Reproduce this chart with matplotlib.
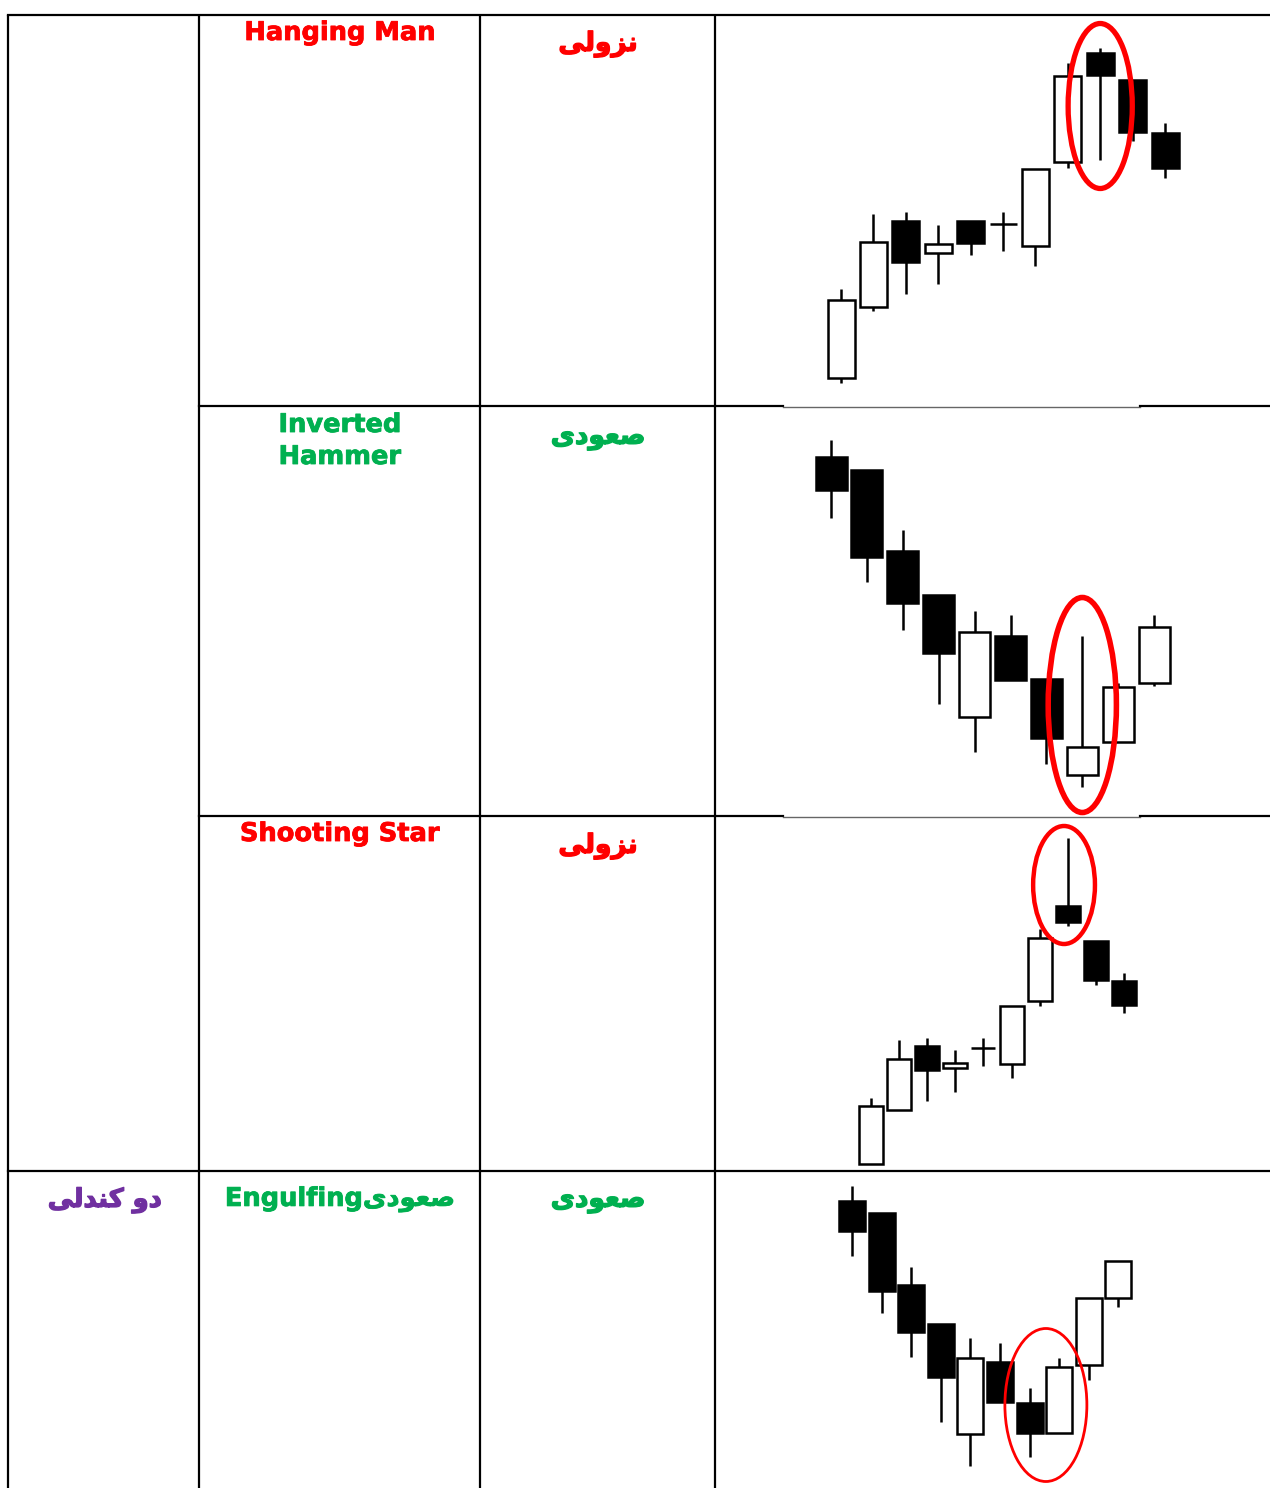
import numpy as np
import matplotlib.pyplot as plt
import matplotlib.patheffects as pe
from matplotlib.patches import Ellipse

W, H = 1270, 1488

# Persian labels, written in visual order with Arabic presentation forms
# (matplotlib does no shaping / right-to-left layout)
NOZULI = '\uFEF0\uFEDF\uFEED\uFEB0\uFEE7'          # نزولی
SOUDI = '\uFEEF\uFEA9\uFEEE\uFECC\uFEBB'           # صعودی
DO_CANDLI = '\uFEF0\uFEDF\uFEAA\uFEE8\uFB90 \uFEED\uFEA9'  # دو کندلی

RED, GREEN, PURPLE = '#FF0000', '#00B050', '#7030A0'

pattern_names = ['Hanging Man', 'Inverted\nHammer', 'Shooting Star', 'Engulfing' + SOUDI]
pattern_colors = [RED, GREEN, RED, GREEN]
signal_labels = [NOZULI, SOUDI, NOZULI, SOUDI]
signal_colors = [RED, GREEN, RED, GREEN]
group_label = DO_CANDLI

# candle data per row (open, high, low, close)
hanging_open = [28, 99, 185, 153, 185, 182, 160, 244, 353, 326, 273]
hanging_high = [117, 192, 194, 181, 185, 194, 237, 343, 358, 326, 283]
hanging_low = [23, 95, 112, 122, 151, 155, 140, 238, 246, 265, 228]
hanging_close = [106, 164, 144, 162, 163, 182, 237, 330, 331, 274, 238]

inv_open = [359, 346, 265, 221, 99, 180, 137, 41, 74, 133]
inv_high = [376, 346, 286, 221, 205, 201, 137, 180, 133, 201]
inv_low = [298, 234, 186, 112, 64, 136, 52, 29, 74, 130]
inv_close = [326, 259, 213, 163, 184, 136, 78, 69, 129, 189]

star_open = [7, 61, 125, 103, 123, 107, 170, 265, 230, 190]
star_high = [73, 131, 133, 121, 133, 165, 242, 333, 230, 198]
star_low = [7, 61, 70, 79, 105, 93, 165, 245, 186, 158]
star_close = [65, 112, 101, 108, 123, 165, 233, 249, 191, 166]

eng_open = [287, 275, 203, 164, 54, 126, 85, 55, 123, 190]
eng_high = [302, 275, 221, 164, 150, 145, 100, 130, 190, 227]
eng_low = [232, 175, 131, 66, 22, 86, 31, 55, 108, 181]
eng_close = [257, 197, 156, 111, 130, 86, 55, 121, 190, 227]

# highlighted area: (candle index, price, width in candles, height in price)
highlights = [(8, 300, 1.98, 165), (7, 111, 1.9, 215), (6.87, 286, 2.2, 118), (6.55, 83, 2.77, 153)]

charts = [
    (hanging_open, hanging_high, hanging_low, hanging_close),
    (inv_open, inv_high, inv_low, inv_close),
    (star_open, star_high, star_low, star_close),
    (eng_open, eng_high, eng_low, eng_close),
]

# layout (pixels)
col_x = [8, 199, 480, 715]
row_y = [15, 406, 816, 1171, 1488]
first_x = [841, 831, 871, 852]
spacing = [32.4, 35.9, 28.1, 29.6]
body_w = [27, 31, 24, 26]
ring_lw = [3.8, 4.0, 3.2, 2.0]

fig = plt.figure(figsize=(W / 100, H / 100), dpi=100)
ax = fig.add_axes([0, 0, 1, 1])
ax.set_xlim(0, W)
ax.set_ylim(H, 0)
ax.axis('off')

lw = 1.6
for x in col_x:
    ax.plot([x, x], [row_y[0], H], color='black', lw=lw, solid_capstyle='butt')
ax.plot([col_x[0], W], [row_y[0]] * 2, color='black', lw=lw)
ax.plot([col_x[0], W], [row_y[3]] * 2, color='black', lw=lw)
for y in row_y[1:3]:
    ax.plot([col_x[1], 783], [y, y], color='black', lw=lw)
    ax.plot([783, 1140], [y + 0.5, y + 0.5], color='#666666', lw=1.0)
    ax.plot([1140, W], [y, y], color='black', lw=lw)

font = dict(family='DejaVu Sans', weight='bold')
name_y = [33, 441, 834, 1199]
signal_y = [44, 437, 846, 1200]
stroke = 0.6
for i in range(4):
    t = ax.text(340, name_y[i], pattern_names[i], color=pattern_colors[i], fontsize=18.5,
                ha='center', va='center', linespacing=1.3, **font)
    t.set_path_effects([pe.withStroke(linewidth=stroke, foreground=pattern_colors[i])])
    t = ax.text(598, signal_y[i], signal_labels[i], color=signal_colors[i],
                fontsize=19, ha='center', va='center', **font)
    t.set_path_effects([pe.withStroke(linewidth=1.0, foreground=signal_colors[i])])
t = ax.text(105, 1200, group_label, color=PURPLE, fontsize=18.5, ha='center', va='center', **font)
t.set_path_effects([pe.withStroke(linewidth=1.0, foreground=PURPLE)])


def candles(cax, o, h, l, c, width):
    o, h, l, c = map(np.asarray, (o, h, l, c))
    idx = np.arange(len(o))
    up = c >= o
    cax.vlines(idx, l, h, color='black', lw=1.8, zorder=1)
    cax.bar(idx, np.abs(c - o), bottom=np.minimum(o, c), width=width,
            color=np.where(up, 'white', 'black'), edgecolor='black', lw=1.8, zorder=2)


left, right = col_x[3], W
for r, (o, h, l, c) in enumerate(charts):
    top, bottom = row_y[r], row_y[r + 1]
    cax = fig.add_axes([left / W, 1 - bottom / H, (right - left) / W, (bottom - top) / H])
    cax.set_xlim((left - first_x[r]) / spacing[r], (right - first_x[r]) / spacing[r])
    cax.set_ylim(0, bottom - top)
    cax.axis('off')
    cax.patch.set_alpha(0)
    candles(cax, o, h, l, c, body_w[r] / spacing[r])
    cx, cy, ew, eh = highlights[r]
    cax.add_patch(Ellipse((cx, cy), ew, eh, fill=False, edgecolor='#FF0000',
                          lw=ring_lw[r], zorder=3, clip_on=False))

fig.savefig('out.png', dpi=100)
